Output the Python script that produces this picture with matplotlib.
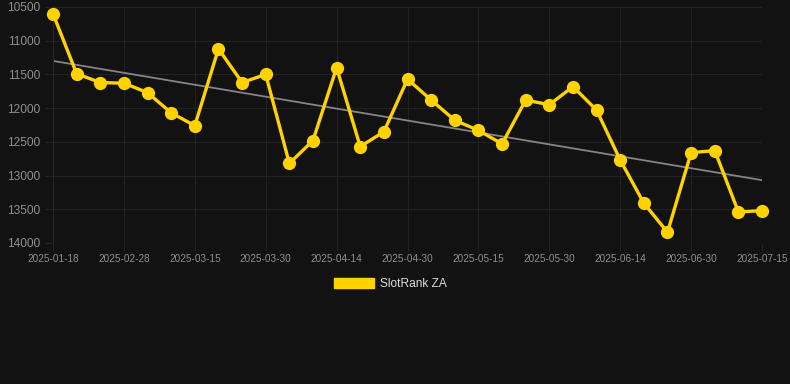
import numpy as np
import matplotlib.pyplot as plt
from matplotlib.patches import Patch

dates = ["2025-01-18", "2025-02-18", "2025-02-23", "2025-02-28", "2025-03-05",
         "2025-03-10", "2025-03-15", "2025-03-20", "2025-03-25", "2025-03-30",
         "2025-04-04", "2025-04-09", "2025-04-14", "2025-04-19", "2025-04-24",
         "2025-04-30", "2025-05-05", "2025-05-10", "2025-05-15", "2025-05-20",
         "2025-05-25", "2025-05-30", "2025-06-04", "2025-06-09", "2025-06-14",
         "2025-06-19", "2025-06-24", "2025-06-30", "2025-07-05", "2025-07-10",
         "2025-07-15"]
rank = [10600, 11490, 11620, 11630, 11770, 12070, 12260, 11120, 11620, 11500,
        12820, 12480, 11400, 12570, 12350, 11570, 11880, 12180, 12330, 12530,
        11880, 11950, 11680, 12030, 12770, 13410, 13840, 12660, 12630, 13540,
        13520]
series_name = "SlotRank ZA"

bg = "#121212"
grid_c = "#222222"
text_c = "#8f8f8f"
yellow = "#ffd200"

fig = plt.figure(figsize=(7.9, 3.84), dpi=100, facecolor=bg)
ax = fig.add_axes([0.0671, 0.3672, 0.8975, 0.6146], facecolor=bg)

x = np.arange(len(rank))

# linear trend
k, b = np.polyfit(x, rank, 1)
ax.plot(x, k * x + b, color="#858585", lw=1.3, zorder=2)

ax.plot(x, rank, color=yellow, lw=2.4, marker="o", markersize=8.5,
        markerfacecolor=yellow, markeredgecolor=yellow, zorder=3, clip_on=False)

ax.set_ylim(14000, 10500)
ax.set_xlim(0, len(rank) - 1)
ax.set_yticks(np.arange(10500, 14001, 500))
ax.set_xticks(x[::3])
ax.set_xticklabels(dates[::3])

ax.grid(True, color=grid_c, lw=0.8)
for s in ax.spines.values():
    s.set_visible(False)
ax.axhline(14000, color="#303030", lw=0.8)
ax.axvline(0, color="#262626", lw=0.8)

ax.tick_params(axis="y", colors=grid_c, labelcolor=text_c, labelsize=8.6,
               length=6, pad=3)
ax.tick_params(axis="x", colors=grid_c, labelcolor=text_c, labelsize=7.2,
               length=6, pad=2)
for lab in ax.get_xticklabels() + ax.get_yticklabels():
    lab.set_fontfamily("Liberation Sans")

leg = fig.legend(handles=[Patch(facecolor=yellow, edgecolor=yellow, label=series_name)],
                 loc="center", bbox_to_anchor=(0.494, 0.26), frameon=False,
                 handlelength=3.4, handleheight=0.85, handletextpad=0.5,
                 prop={"family": "Liberation Sans", "size": 8.6})
for t in leg.get_texts():
    t.set_color("#dddddd")

fig.savefig("out.png", dpi=100, facecolor=bg)
